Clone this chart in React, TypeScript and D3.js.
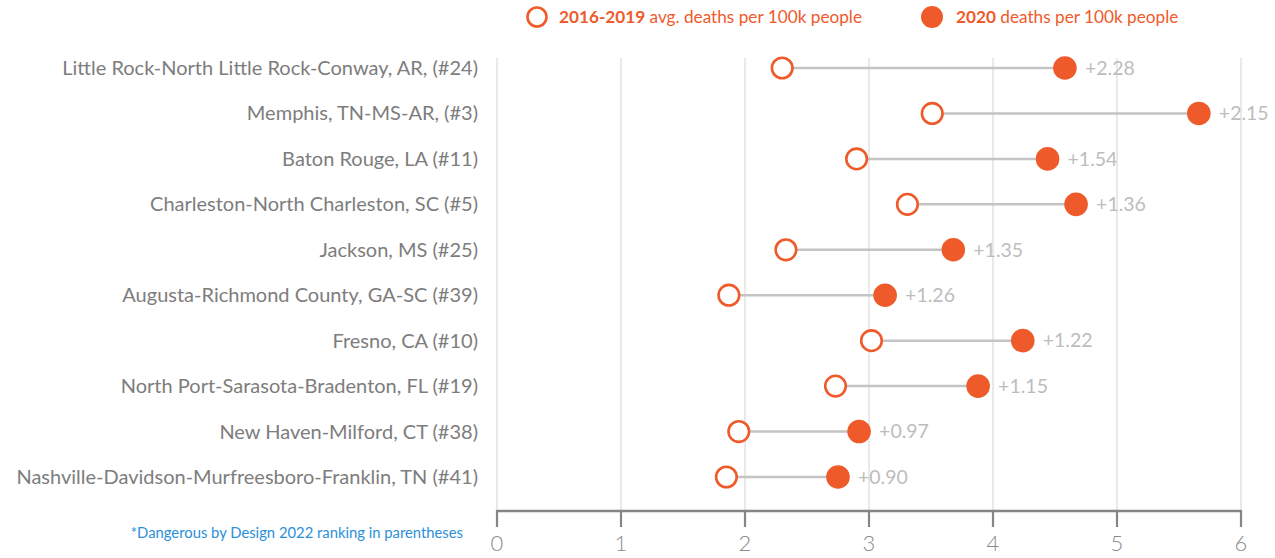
import React from "react";
import * as d3 from "d3";

const categories = [
  "Little Rock-North Little Rock-Conway, AR, (#24)",
  "Memphis, TN-MS-AR, (#3)",
  "Baton Rouge, LA (#11)",
  "Charleston-North Charleston, SC (#5)",
  "Jackson, MS (#25)",
  "Augusta-Richmond County, GA-SC (#39)",
  "Fresno, CA (#10)",
  "North Port-Sarasota-Bradenton, FL (#19)",
  "New Haven-Milford, CT (#38)",
  "Nashville-Davidson-Murfreesboro-Franklin, TN (#41)",
];
const avg2016_2019 = [2.30, 3.51, 2.90, 3.31, 2.33, 1.87, 3.02, 2.73, 1.95, 1.85];
const deaths2020 = [4.58, 5.66, 4.44, 4.67, 3.68, 3.13, 4.24, 3.88, 2.92, 2.75];
const deltaLabels = ["+2.28", "+2.15", "+1.54", "+1.36", "+1.35", "+1.26", "+1.22", "+1.15", "+0.97", "+0.90"];
const xTicks = [0, 1, 2, 3, 4, 5, 6];

const ORANGE = "#ef5a2b";
const FONT = "Lato, 'Open Sans', sans-serif";

export default function App() {
  const W = 1275;
  const H = 558;
  const x = d3.scaleLinear().domain([0, 6]).range([497, 1241]);
  const y = d3.scalePoint<string>().domain(categories).range([68, 477]);
  const axisY = 511;

  return (
    <svg width={W} height={H} style={{ position: "absolute", left: 0, top: 0, background: "#fff" }} fontFamily={FONT}>
      {/* gridlines */}
      {xTicks.map((t) => (
        <line key={"g" + t} x1={x(t)} x2={x(t)} y1={58} y2={axisY} stroke="#e2e2e2" strokeWidth={1.5} />
      ))}
      {/* axis */}
      <line x1={x(0)} x2={x(6)} y1={axisY} y2={axisY} stroke="#858585" strokeWidth={2.5} />
      {xTicks.map((t) => (
        <g key={"t" + t}>
          <line x1={x(t)} x2={x(t)} y1={axisY - 1} y2={axisY + 16} stroke="#858585" strokeWidth={2.2} />
          <text x={x(t)} y={551} textAnchor="middle" fontSize={22} fill="#8a8a8a" fontWeight={300}>
            {t}
          </text>
        </g>
      ))}
      {/* rows */}
      {categories.map((c, i) => {
        const yy = y(c)!;
        const x0 = x(avg2016_2019[i]);
        const x1 = x(deaths2020[i]);
        return (
          <g key={c}>
            <text x={478} y={yy} dy="0.35em" textAnchor="end" fontSize={20} fill="#7d7d7d">
              {c}
            </text>
            <line x1={x0} x2={x1} y1={yy} y2={yy} stroke="#c4c4c4" strokeWidth={2.5} />
            <circle cx={x0} cy={yy} r={10.3} fill="#fff" stroke={ORANGE} strokeWidth={2.6} />
            <circle cx={x1} cy={yy} r={11.8} fill={ORANGE} />
            <text x={x1 + 20} y={yy} dy="0.35em" fontSize={19.5} fill="#bdbdbd">
              {deltaLabels[i]}
            </text>
          </g>
        );
      })}
      {/* legend */}
      <circle cx={537} cy={17} r={9.5} fill="#fff" stroke={ORANGE} strokeWidth={2.6} />
      <text x={559} y={17} dy="0.35em" fontSize={17.2} fill={ORANGE}>
        <tspan fontWeight={700}>2016-2019</tspan>
        <tspan> avg. deaths per 100k people</tspan>
      </text>
      <circle cx={932} cy={17} r={11} fill={ORANGE} />
      <text x={956} y={17} dy="0.35em" fontSize={17.2} fill={ORANGE}>
        <tspan fontWeight={700}>2020</tspan>
        <tspan> deaths per 100k people</tspan>
      </text>
      {/* footnote */}
      <text x={463} y={533} dy="0.35em" textAnchor="end" fontSize={14.8} fill="#2b8fd8">
        *Dangerous by Design 2022 ranking in parentheses
      </text>
    </svg>
  );
}
